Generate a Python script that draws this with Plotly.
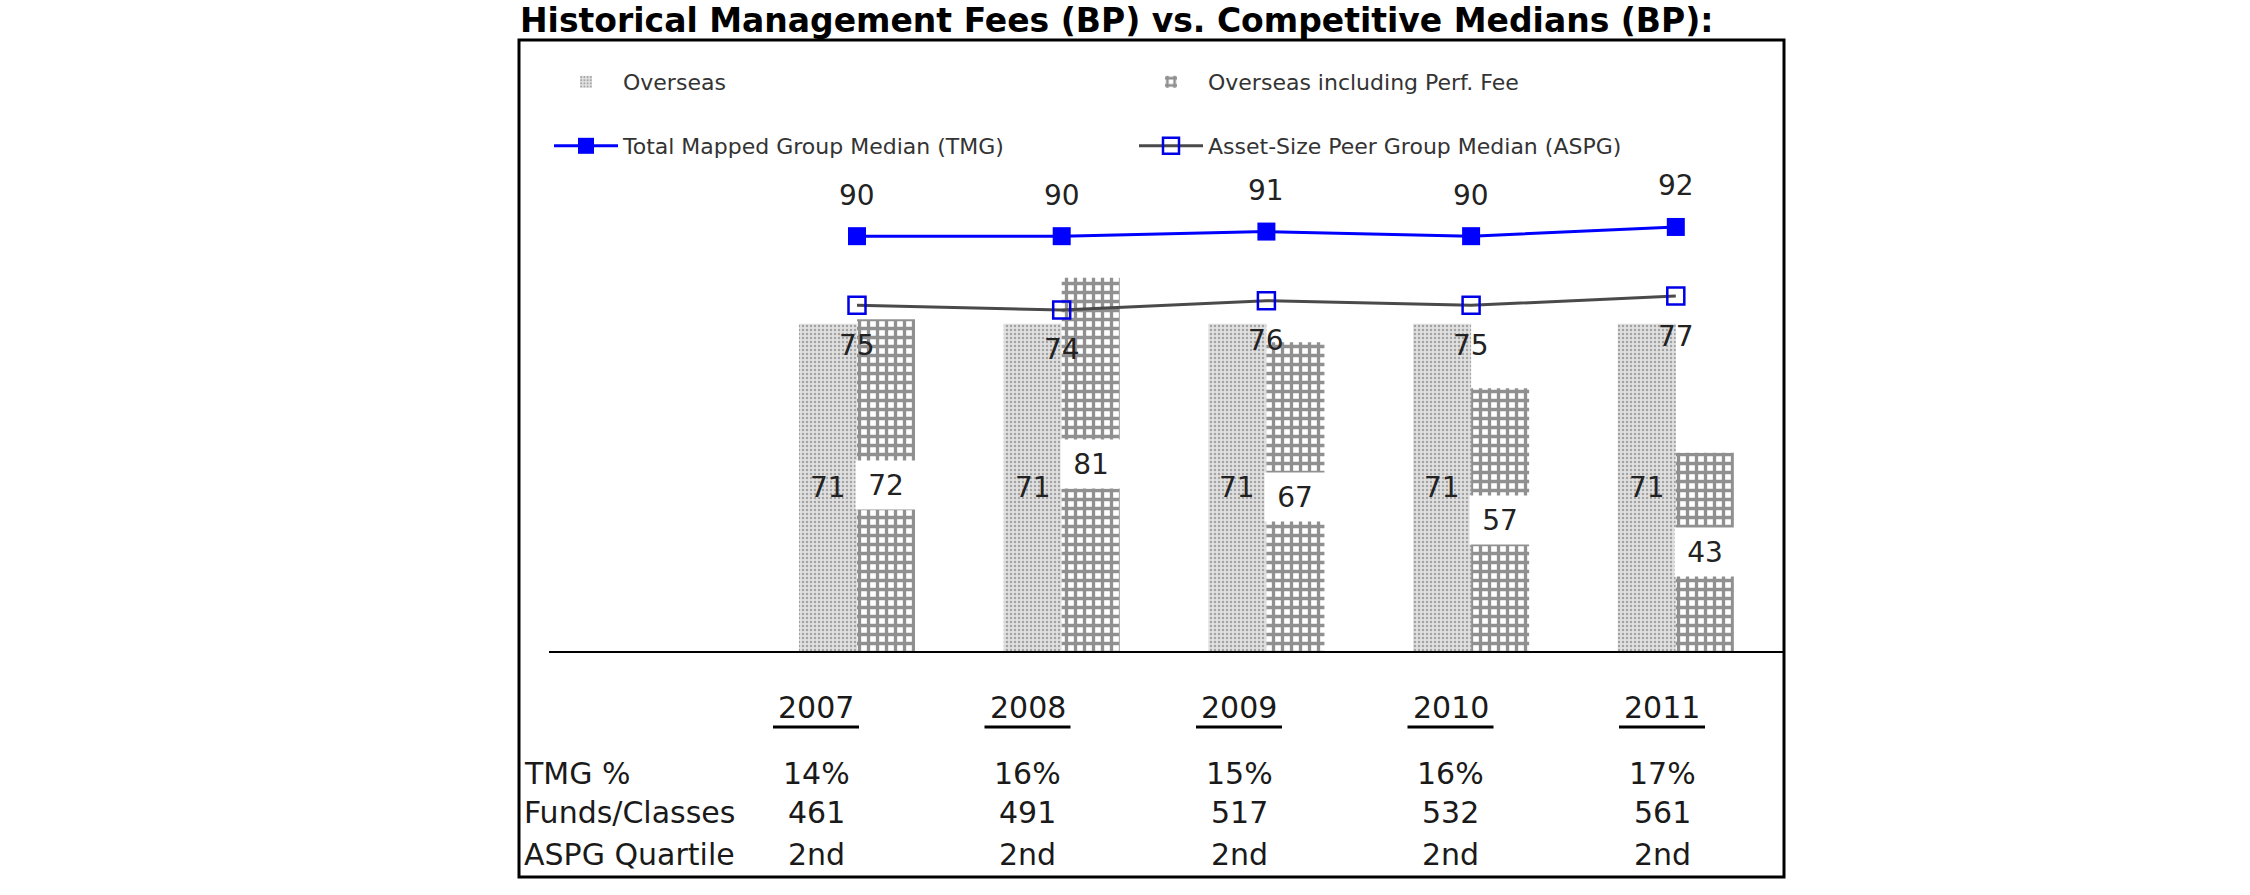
import plotly.graph_objects as go

# ---------------- data ----------------
years = ["2007", "2008", "2009", "2010", "2011"]
overseas = [71, 71, 71, 71, 71]
overseas_perf = [72, 81, 67, 57, 43]
tmg_median = [90, 90, 91, 90, 92]
aspg_median = [75, 74, 76, 75, 77]
tmg_pct = ["14%", "16%", "15%", "16%", "17%"]
funds_classes = ["461", "491", "517", "532", "561"]
aspg_quartile = ["2nd", "2nd", "2nd", "2nd", "2nd"]
row_labels = ["TMG %", "Funds/Classes", "ASPG Quartile"]
series_names = ["Overseas", "Overseas including Perf. Fee",
                "Total Mapped Group Median (TMG)", "Asset-Size Peer Group Median (ASPG)"]
title_text = "Historical Management Fees (BP) vs. Competitive Medians (BP):"

# ---------------- layout geometry ----------------
W, H = 2250, 895
L, R = 549, 1783          # plot area (px)
T, B = 144, 651
FONT = "DejaVu Sans"
bargap = 0.433
bw = (1 - bargap) / 2     # width of one bar in category units
sx = 204.7                # px per category
x0 = -(857 - L) / sx
x1 = x0 + (R - L) / sx
idx = list(range(len(years)))


def px_x(px):
    return (px - L) / (R - L)


def px_y(py):
    return (B - py) / (B - T)


fig = go.Figure()
fig.add_trace(go.Bar(
    x=idx, y=overseas, name=series_names[0], legend="legend",
    marker=dict(color="#e2e2e2", line=dict(width=0),
                pattern=dict(shape=".", fgcolor="#666666", bgcolor="#e0e0e0",
                             size=4, solidity=0.3)),
))
fig.add_trace(go.Bar(
    x=idx, y=overseas_perf, name=series_names[1], legend="legend",
    marker=dict(color="white", line=dict(width=0),
                pattern=dict(shape="+", fgcolor="#222222", bgcolor="white",
                             size=9, solidity=0.6)),
))
fig.add_trace(go.Scatter(
    x=idx, y=tmg_median, name=series_names[2], legend="legend2",
    mode="lines+markers",
    line=dict(color="#0000ff", width=3),
    marker=dict(symbol="square", size=18, color="#0000ff"),
))
fig.add_trace(go.Scatter(
    x=idx, y=aspg_median, name=series_names[3], legend="legend2",
    mode="lines+markers",
    line=dict(color="#4a4a4a", width=3),
    marker=dict(symbol="square-open", size=17, color="#0000e6",
                line=dict(width=2.5, color="#0000e6")),
))

ann = []
lab_font = dict(family=FONT, size=28, color="#222")
for i in idx:
    ann.append(dict(x=i - bw / 2, y=overseas[i] / 2, xref="x", yref="y",
                    text=str(overseas[i]), showarrow=False, font=lab_font))
    ann.append(dict(x=i + bw / 2, y=overseas_perf[i] / 2, xref="x", yref="y",
                    text=str(overseas_perf[i]), showarrow=False, font=lab_font,
                    bgcolor="white", width=56, height=44, borderpad=2))
    ann.append(dict(x=i, y=tmg_median[i], xref="x", yref="y", yshift=41,
                    text=str(tmg_median[i]), showarrow=False, font=lab_font))
    ann.append(dict(x=i, y=aspg_median[i], xref="x", yref="y", yshift=-40,
                    text=str(aspg_median[i]), showarrow=False, font=lab_font))

# table below the chart
tab_font = dict(family=FONT, size=30, color="#1a1a1a")
col_px = [816 + 211.5 * i for i in idx]
row_py = [773, 812, 854]
shapes = []
for i in idx:
    ann.append(dict(x=px_x(col_px[i]), y=px_y(707), xref="paper", yref="paper",
                    xanchor="center", yanchor="middle",
                    text=years[i], showarrow=False, font=tab_font))
    shapes.append(dict(type="line", xref="paper", yref="paper",
                       x0=px_x(col_px[i] - 43), x1=px_x(col_px[i] + 43),
                       y0=px_y(727), y1=px_y(727), line=dict(color="black", width=3)))
    for vals, py in zip([tmg_pct, funds_classes, aspg_quartile], row_py):
        ann.append(dict(x=px_x(col_px[i]), y=px_y(py), xref="paper", yref="paper",
                        xanchor="center", yanchor="middle",
                        text=vals[i], showarrow=False, font=tab_font))
for lab, py in zip(row_labels, row_py):
    ann.append(dict(x=px_x(522), y=px_y(py), xref="paper", yref="paper",
                    xanchor="left", yanchor="middle",
                    text=lab, showarrow=False, font=tab_font))

# outer box
shapes.append(dict(type="rect", xref="paper", yref="paper",
                   x0=px_x(519), x1=px_x(1784), y0=px_y(877), y1=px_y(40),
                   line=dict(color="black", width=3), fillcolor="rgba(0,0,0,0)"))

leg_common = dict(orientation="h", x=0, xanchor="left", yanchor="middle",
                  entrywidth=506, entrywidthmode="pixels", itemwidth=64,
                  bgcolor="rgba(0,0,0,0)", traceorder="normal",
                  font=dict(family=FONT, size=22, color="#333"))

fig.update_layout(
    width=W, height=H,
    margin=dict(l=L, r=W - R, t=T, b=H - B, pad=0),
    paper_bgcolor="white", plot_bgcolor="white",
    barmode="group", bargap=bargap, bargroupgap=0,
    title=dict(text="<b>" + title_text + "</b>", x=520 / W, xanchor="left",
               xref="container", y=1 - 20 / H, yref="container", yanchor="middle",
               font=dict(family=FONT, size=33, color="black")),
    xaxis=dict(range=[x0, x1], showline=True, linecolor="black", linewidth=2,
               showticklabels=False, ticks="", showgrid=False, zeroline=False),
    yaxis=dict(range=[0, 110], visible=False, showgrid=False, zeroline=False),
    legend=dict(leg_common, y=px_y(82)),
    legend2=dict(leg_common, y=px_y(146)),
    annotations=ann,
    shapes=shapes,
)

fig.write_html("out.html", config={"displayModeBar": False},
               post_script="document.body.style.margin='0';")
